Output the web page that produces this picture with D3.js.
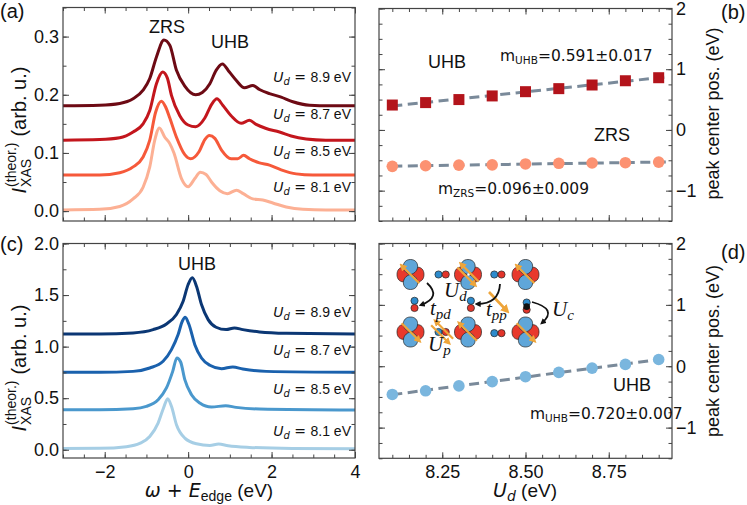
<!DOCTYPE html>
<html>
<head>
<meta charset="utf-8">
<script src="https://cdn.jsdelivr.net/npm/d3@7"></script>
<style>
  body { margin: 0; background: #fff; }
  svg { display: block; }
  text { font-family: "Liberation Sans", Arial, sans-serif; fill: #111; }
</style>
</head>
<body>
<svg id="fig" width="747" height="505"></svg>
<script>
// ---- data ----
// panel (a): XAS spectra, [omega + E_edge, intensity]
var specA81 = [[-3,0.002],[-2.12,0.003],[-1.64,0.008],[-1.32,0.021],[-1.08,0.041],[-0.92,0.076],[-0.80,0.122],[-0.69,0.143],[-0.56,0.127],[-0.44,0.116],[-0.34,0.100],[-0.16,0.056],[0,0.042],[0.16,0.056],[0.29,0.067],[0.43,0.063],[0.56,0.050],[0.76,0.035],[0.94,0.030],[1.16,0.036],[1.32,0.030],[1.55,0.021],[1.79,0.019],[2.03,0.014],[2.35,0.007],[2.75,0.003],[3.3,0.002],[4,0.002]];
var specA85 = [[-3,0.062],[-2.12,0.062],[-1.64,0.066],[-1.32,0.076],[-1.08,0.093],[-0.92,0.122],[-0.78,0.170],[-0.64,0.189],[-0.54,0.179],[-0.44,0.160],[-0.28,0.127],[-0.08,0.097],[0.06,0.090],[0.26,0.102],[0.40,0.123],[0.51,0.130],[0.64,0.125],[0.80,0.105],[1.03,0.090],[1.19,0.090],[1.33,0.096],[1.47,0.090],[1.71,0.083],[1.95,0.079],[2.23,0.071],[2.59,0.064],[2.99,0.062],[4,0.062]];
var specA87 = [[-3,0.122],[-2.12,0.123],[-1.64,0.126],[-1.32,0.136],[-1.08,0.150],[-0.92,0.173],[-0.76,0.219],[-0.61,0.239],[-0.50,0.229],[-0.40,0.199],[-0.20,0.164],[0,0.148],[0.18,0.145],[0.40,0.160],[0.56,0.183],[0.69,0.193],[0.83,0.182],[1.03,0.164],[1.27,0.151],[1.47,0.156],[1.63,0.149],[1.87,0.142],[2.19,0.136],[2.47,0.129],[2.83,0.124],[3.3,0.122],[4,0.122]];
var specA89 = [[-3,0.181],[-2.12,0.182],[-1.64,0.185],[-1.32,0.193],[-1.08,0.208],[-0.92,0.228],[-0.76,0.265],[-0.58,0.294],[-0.44,0.285],[-0.28,0.242],[-0.08,0.215],[0.18,0.200],[0.34,0.204],[0.52,0.219],[0.67,0.242],[0.82,0.253],[0.99,0.239],[1.15,0.225],[1.35,0.212],[1.55,0.216],[1.71,0.209],[1.95,0.202],[2.23,0.196],[2.51,0.188],[2.91,0.182],[3.4,0.181],[4,0.181]];

// panel (c): XAS spectra
var specC81 = [[-3,0.012],[-2.12,0.014],[-1.48,0.030],[-1.16,0.062],[-0.92,0.129],[-0.72,0.259],[-0.59,0.405],[-0.49,0.495],[-0.40,0.421],[-0.28,0.243],[-0.08,0.113],[0.20,0.058],[0.52,0.042],[0.73,0.055],[0.96,0.039],[1.47,0.023],[2.5,0.012],[4,0.010]];
var specC85 = [[-3,0.388],[-2.12,0.388],[-1.32,0.398],[-1.0,0.421],[-0.72,0.485],[-0.52,0.599],[-0.37,0.760],[-0.27,0.890],[-0.18,0.851],[-0.08,0.680],[0.08,0.534],[0.28,0.453],[0.56,0.414],[0.90,0.427],[1.15,0.411],[1.71,0.395],[4,0.385]];
var specC87 = [[-3,0.751],[-2.12,0.751],[-1.32,0.760],[-0.92,0.793],[-0.60,0.858],[-0.40,0.971],[-0.24,1.117],[-0.14,1.246],[-0.07,1.285],[0.02,1.214],[0.16,1.019],[0.32,0.890],[0.52,0.819],[0.80,0.786],[1.07,0.803],[1.31,0.783],[1.87,0.760],[4,0.751]];
var specC89 = [[-3,1.123],[-2.12,1.123],[-1.32,1.133],[-0.84,1.165],[-0.52,1.220],[-0.28,1.311],[-0.12,1.440],[0.0,1.602],[0.10,1.667],[0.20,1.586],[0.32,1.408],[0.48,1.262],[0.67,1.188],[0.91,1.165],[1.11,1.181],[1.31,1.165],[1.71,1.142],[2.35,1.129],[4,1.123]];

var spectraLabels = ["8.1", "8.5", "8.7", "8.9"];
var specLabelY_A = [0.033, 0.095, 0.159, 0.222];   // where each U_d label sits (data units)
var specLabelY_C = [0.13, 0.54, 0.915, 1.285];

// panels (b) and (d): peak positions vs U_d
var udGrid = [8.1, 8.2, 8.3, 8.4, 8.5, 8.6, 8.7, 8.8, 8.9];
var peakUHB_b = [0.41, 0.45, 0.50, 0.56, 0.63, 0.68, 0.74, 0.81, 0.86];
var peakZRS_b = [-0.60, -0.59, -0.58, -0.575, -0.56, -0.55, -0.545, -0.54, -0.53];
var peakUHB_d = [-0.46, -0.40, -0.32, -0.25, -0.17, -0.10, -0.03, 0.03, 0.11];

// tick labels
var omegaTicks = [-2, 0, 2, 4];
var intTicksA = [0.0, 0.1, 0.2, 0.3];
var intTicksC = [0.0, 0.5, 1.0, 1.5, 2.0];
var udTicks = [8.25, 8.50, 8.75];
var peakTicks = [-1, 0, 1, 2];

var redColors = ["#fcb094", "#f6593a", "#c3161d", "#6d0a14"];
var blueColors = ["#a6cee5", "#4a98cd", "#1a61ad", "#0b3774"];

// ---- figure ----
var svg = d3.select("#fig");
var frameColor = "#444";

function range(a, b, s) {
  var out = [];
  for (var v = a; v <= b + 1e-9; v += s) out.push(+v.toFixed(4));
  return out;
}

// frame + inward ticks on all four sides
function drawAxes(x, y, o) {
  var x0 = x.range()[0], x1 = x.range()[1], y0 = y.range()[0], y1 = y.range()[1];
  var g = svg.append("g");
  var sides = [
    [d3.axisBottom(x), "translate(0," + y0 + ")", o.xMajor, o.xMinor, o.xLabels],
    [d3.axisTop(x), "translate(0," + y1 + ")", o.xMajor, o.xMinor, false],
    [d3.axisLeft(y), "translate(" + x0 + ",0)", o.yMajor, o.yMinor, o.yLeft],
    [d3.axisRight(y), "translate(" + x1 + ",0)", o.yMajor, o.yMinor, !o.yLeft]
  ];
  sides.forEach(function(s, i) {
    var isY = i > 1;
    var fmt = isY ? o.yFmt : o.xFmt;
    var ax = s[0].tickValues(s[2]).tickSize(-6).tickPadding(isY ? 4 : 7)
      .tickFormat(s[4] ? fmt : "");
    var gm = g.append("g").attr("transform", s[1]).call(ax);
    var mi = s[0].tickValues(s[3]).tickSize(-3.5).tickFormat("");
    var gn = g.append("g").attr("transform", s[1]).call(mi);
    [gm, gn].forEach(function(a) {
      a.select(".domain").remove();
      a.selectAll("line").attr("stroke", frameColor).attr("stroke-width", 1);
    });
    gm.selectAll("text").attr("font-size", 18)
      .attr("font-family", "Liberation Sans, Arial, sans-serif").attr("fill", "#111");
  });
  g.append("rect").attr("x", x0).attr("y", y1).attr("width", x1 - x0).attr("height", y0 - y1)
    .attr("fill", "none").attr("stroke", frameColor).attr("stroke-width", 1.2);
}

// text with a subscript, e.g. U_d
function subText(parent, x, y, parts, anchor) {
  var t = parent.append("text").attr("x", x).attr("y", y);
  if (anchor) t.attr("text-anchor", anchor);
  parts.forEach(function(p) {
    var s = t.append("tspan").text(p.t);
    if (p.italic) s.attr("font-style", "italic");
    if (p.family) s.attr("font-family", p.family);
    if (p.size) s.attr("font-size", p.size);
    if (p.dy) s.attr("dy", p.dy);
  });
  return t;
}

// ---------- panel (a) ----------
var xA = d3.scaleLinear().domain([-3, 4]).range([63, 355]);
var yA = d3.scaleLinear().domain([-0.017, 0.35]).range([221, 7.5]);
var lineA = d3.line().x(function(d) { return xA(d[0]); }).y(function(d) { return yA(d[1]); })
  .curve(d3.curveMonotoneX);
svg.append("g").selectAll("path").data([specA81, specA85, specA87, specA89]).enter()
  .append("path").attr("d", lineA).attr("fill", "none")
  .attr("stroke", function(d, i) { return redColors[i]; })
  .attr("stroke-width", 3).attr("stroke-linejoin", "round");
drawAxes(xA, yA, {
  xMajor: omegaTicks, xMinor: range(-3, 4, 0.5), xLabels: false, xFmt: d3.format("d"),
  yMajor: intTicksA, yMinor: range(0, 0.35, 0.05), yLeft: true, yFmt: d3.format(".1f")
});

// ---------- panel (c) ----------
var xC = d3.scaleLinear().domain([-3, 4]).range([63, 355]);
var yC = d3.scaleLinear().domain([-0.08, 2.0]).range([458, 243.5]);
var lineC = d3.line().x(function(d) { return xC(d[0]); }).y(function(d) { return yC(d[1]); })
  .curve(d3.curveMonotoneX);
svg.append("g").selectAll("path").data([specC81, specC85, specC87, specC89]).enter()
  .append("path").attr("d", lineC).attr("fill", "none")
  .attr("stroke", function(d, i) { return blueColors[i]; })
  .attr("stroke-width", 3).attr("stroke-linejoin", "round");
drawAxes(xC, yC, {
  xMajor: omegaTicks, xMinor: range(-3, 4, 0.5), xLabels: true, xFmt: d3.format("d"),
  yMajor: intTicksC, yMinor: range(0, 2, 0.25), yLeft: true, yFmt: d3.format(".1f")
});

// U_d labels on the spectra
function specLabels(y, vals) {
  var g = svg.append("g");
  spectraLabels.forEach(function(lab, i) {
    subText(g, 351, y(vals[i]), [
      { t: "U", italic: true, family: "DejaVu Sans", size: 14 },
      { t: "d", italic: true, family: "DejaVu Sans", size: 10, dy: 3 },
      { t: " = ", family: "DejaVu Sans", size: 14, dy: -3 },
      { t: lab + " eV", size: 14 }
    ], "end");
  });
}
specLabels(yA, specLabelY_A);
specLabels(yC, specLabelY_C);

svg.append("text").attr("x", 167).attr("y", 33).attr("text-anchor", "middle").attr("font-size", 18).text("ZRS");
svg.append("text").attr("x", 230).attr("y", 48).attr("text-anchor", "middle").attr("font-size", 18).text("UHB");
svg.append("text").attr("x", 197).attr("y", 270).attr("text-anchor", "middle").attr("font-size", 18).text("UHB");

// y labels for (a) and (c): I^(theor.)_XAS (arb. u.)
function intensityLabel(cx, cy) {
  var outer = svg.append("g").attr("transform", "translate(" + cx + "," + cy + ") rotate(-90)");
  var g = outer.append("g");
  var tI = g.append("text").attr("font-family", "DejaVu Sans").attr("font-style", "italic")
    .attr("font-size", 20).text("I");
  var w = tI.node().getComputedTextLength();
  var tSub = g.append("text").attr("x", w + 1).attr("y", 5).attr("font-size", 14).text("XAS");
  var tSup = g.append("text").attr("x", w + 1).attr("y", -10).attr("font-size", 14).text("(theor.)");
  var w2 = w + 1 + Math.max(tSub.node().getComputedTextLength(), tSup.node().getComputedTextLength());
  var tR = g.append("text").attr("x", w2 + 6).attr("font-size", 20).text("(arb. u.)");
  var total = w2 + 6 + tR.node().getComputedTextLength();
  g.attr("transform", "translate(" + (-total / 2) + ",0)");
}
intensityLabel(26, 130);
intensityLabel(26, 368);

// x label (c)
subText(svg, 209, 497, [
  { t: "\u03c9", italic: true, family: "DejaVu Sans", size: 19 },
  { t: " + ", family: "DejaVu Sans", size: 19 },
  { t: "E", italic: true, family: "DejaVu Sans", size: 19 },
  { t: "edge", size: 14, dy: 4 },
  { t: " (eV)", size: 19, dy: -4 }
], "middle");

// ---------- panels (b) and (d) ----------
var xB = d3.scaleLinear().domain([8.06, 8.94]).range([379, 672]);
var yB = d3.scaleLinear().domain([-1.5, 2]).range([221, 8.5]);
var xD = d3.scaleLinear().domain([8.06, 8.94]).range([379, 672]);
var yD = d3.scaleLinear().domain([-1.5, 2]).range([458.3, 243.5]);

function linFit(xs, ys) {
  var mx = d3.mean(xs), my = d3.mean(ys);
  var sxy = d3.sum(xs, function(v, i) { return (v - mx) * (ys[i] - my); });
  var sxx = d3.sum(xs, function(v) { return (v - mx) * (v - mx); });
  var m = sxy / sxx;
  return function(v) { return my + m * (v - mx); };
}

function fitLine(x, y, vals) {
  var f = linFit(udGrid, vals);
  var ends = [udGrid[0], 8.93];
  svg.append("path")
    .attr("d", d3.line().x(function(d) { return x(d); }).y(function(d) { return y(f(d)); })(ends))
    .attr("fill", "none").attr("stroke", "#7a8a9a").attr("stroke-width", 3)
    .attr("stroke-dasharray", "10,5.5");
}

fitLine(xB, yB, peakUHB_b);
fitLine(xB, yB, peakZRS_b);
svg.append("g").selectAll("rect").data(peakUHB_b).enter().append("rect")
  .attr("x", function(d, i) { return xB(udGrid[i]) - 5.5; })
  .attr("y", function(d) { return yB(d) - 5.5; })
  .attr("width", 11).attr("height", 11).attr("fill", "#b3141b");
svg.append("g").selectAll("circle").data(peakZRS_b).enter().append("circle")
  .attr("cx", function(d, i) { return xB(udGrid[i]); })
  .attr("cy", function(d) { return yB(d); })
  .attr("r", 5.8).attr("fill", "#fc9272");
drawAxes(xB, yB, {
  xMajor: udTicks, xMinor: range(8.1, 8.9, 0.05), xLabels: false, xFmt: d3.format(".2f"),
  yMajor: peakTicks, yMinor: range(-1.5, 2, 0.25), yLeft: false, yFmt: d3.format("d")
});

fitLine(xD, yD, peakUHB_d);
svg.append("g").selectAll("circle").data(peakUHB_d).enter().append("circle")
  .attr("cx", function(d, i) { return xD(udGrid[i]); })
  .attr("cy", function(d) { return yD(d); })
  .attr("r", 5.8).attr("fill", "#7ab6de");
drawAxes(xD, yD, {
  xMajor: udTicks, xMinor: range(8.1, 8.9, 0.05), xLabels: true, xFmt: d3.format(".2f"),
  yMajor: peakTicks, yMinor: range(-1.5, 2, 0.25), yLeft: false, yFmt: d3.format("d")
});

// right-hand y labels
[113.5, 351].forEach(function(cy) {
  svg.append("text").attr("transform", "translate(719," + cy + ") rotate(-90)")
    .attr("text-anchor", "middle").attr("font-size", 18).text("peak center pos. (eV)");
});
subText(svg, 525, 497, [
  { t: "U", italic: true, family: "DejaVu Sans", size: 19 },
  { t: "d", italic: true, family: "DejaVu Sans", size: 14, dy: 4 },
  { t: " (eV)", size: 19, dy: -4 }
], "middle");

// annotations (b), (d)
svg.append("text").attr("x", 447).attr("y", 68).attr("text-anchor", "middle").attr("font-size", 18).text("UHB");
svg.append("text").attr("x", 612).attr("y", 141).attr("text-anchor", "middle").attr("font-size", 18).text("ZRS");
svg.append("text").attr("x", 632).attr("y", 391).attr("text-anchor", "middle").attr("font-size", 18).text("UHB");
function slopeText(x, y, sub, val) {
  subText(svg, x, y, [
    { t: "m", family: "DejaVu Sans", size: 15.5 },
    { t: sub, family: "DejaVu Sans", size: 10.5, dy: 3 },
    { t: "=" + val, family: "DejaVu Sans", size: 15.5, dy: -3 }
  ]);
}
slopeText(500, 61, "UHB", "0.591\u00b10.017");
slopeText(438, 194, "ZRS", "0.096\u00b10.009");
slopeText(530, 419, "UHB", "0.720\u00b10.007");

// panel letters
[["(a)", 0, 18], ["(c)", 0, 251], ["(b)", 721, 19], ["(d)", 721, 259]].forEach(function(p) {
  svg.append("text").attr("x", p[1]).attr("y", p[2]).attr("font-size", 20).text(p[0]);
});

// ---------- inset schematic in (d) ----------
var defs = svg.append("defs");
[["headO", "#eea53a"], ["headK", "#111"]].forEach(function(m) {
  defs.append("marker").attr("id", m[0]).attr("viewBox", "0 0 10 10").attr("refX", 6).attr("refY", 5)
    .attr("markerWidth", 3.4).attr("markerHeight", 3.4).attr("orient", "auto")
    .append("path").attr("d", "M0,0 L10,5 L0,10 Z").attr("fill", m[1]);
});

var inset = svg.append("g");
var ox = 410.5, oy = 274.5, sp = 57.5;
function px(c) { return ox + c * sp; }
function py(r) { return oy + r * sp; }

var dSites = [[0, 0], [1, 0], [2, 0], [0, 1], [1, 1], [2, 1]];
var redLobe = "M0,0 C2,-10 13.5,-9.5 13.5,0 C13.5,9.5 2,10 0,0 Z";
var blueLobe = "M0,0 C2,-9.5 15,-9.5 15,0 C15,9.5 2,9.5 0,0 Z";
dSites.forEach(function(s) {
  var gd = inset.append("g").attr("transform", "translate(" + px(s[0]) + "," + py(s[1]) + ")");
  [0, 180].forEach(function(a) {
    gd.append("path").attr("d", redLobe).attr("transform", "rotate(" + a + ")")
      .attr("fill", "#e8392c").attr("stroke", "#222").attr("stroke-width", 0.7);
  });
  [90, 270].forEach(function(a) {
    gd.append("path").attr("d", blueLobe).attr("transform", "rotate(" + a + ")")
      .attr("fill", "#5fa6d9").attr("stroke", "#222").attr("stroke-width", 0.7);
  });
});

var pHoriz = [[0.55, 0], [1.52, 0], [0.55, 1], [1.52, 1.02]];
var pVert = [[0.07, 0.52], [1.05, 0.52], [2.02, 0.55]];
pHoriz.forEach(function(s) {
  [[-3.6, "#2d8bcc"], [3.6, "#e2342a"]].forEach(function(c) {
    inset.append("circle").attr("cx", px(s[0]) + c[0]).attr("cy", py(s[1])).attr("r", 3.6)
      .attr("fill", c[1]).attr("stroke", "#222").attr("stroke-width", 0.7);
  });
});
pVert.forEach(function(s, i) {
  [[-3.6, "#2d8bcc"], [3.6, "#e2342a"]].forEach(function(c) {
    inset.append("circle").attr("cx", px(s[0])).attr("cy", py(s[1]) + c[0]).attr("r", 3.6)
      .attr("fill", c[1]).attr("stroke", "#222").attr("stroke-width", 0.7);
  });
  if (i === 2) inset.append("circle").attr("cx", px(s[0])).attr("cy", py(s[1]) + 0.5).attr("r", 3.3).attr("fill", "#111");
});
inset.append("circle").attr("cx", px(1) + 0.5).attr("cy", py(0)).attr("r", 1.3).attr("fill", "#fff");

// spin arrows along the diagonal: [col, row, direction, perpendicular offset]
var spins = [[0, 0, -1, 0], [1, 0, -1, -2.5], [1, 0, 1, 2.5], [2, 0, -1, 0],
             [0, 1, 1, 0], [1, 1, -1, 0], [2, 1, 1, 0], [0.55, 1, -1, -3], [0.55, 1, 1, 3]];
spins.forEach(function(s) {
  var cx = px(s[0]), cy = py(s[1]), L = 12.5, k = Math.SQRT1_2;
  var ppx = -k * s[3], ppy = k * s[3];
  inset.append("line")
    .attr("x1", cx - s[2] * L * k + ppx).attr("y1", cy - s[2] * L * k + ppy)
    .attr("x2", cx + s[2] * L * k + ppx).attr("y2", cy + s[2] * L * k + ppy)
    .attr("stroke", "#eea53a").attr("stroke-width", 2.2).attr("marker-end", "url(#headO)");
});
// t_pp hop
inset.append("line").attr("x1", 489).attr("y1", 292).attr("x2", 507).attr("y2", 311)
  .attr("stroke", "#eea53a").attr("stroke-width", 2.6).attr("marker-end", "url(#headO)");

// black curved hops
[["M427,283 Q442,297 421,305"], ["M500,284 Q499,304 477,304"], ["M532,302 Q558,309 542,323"]]
  .forEach(function(p) {
    inset.append("path").attr("d", p[0]).attr("fill", "none").attr("stroke", "#111")
      .attr("stroke-width", 1.8).attr("marker-end", "url(#headK)");
  });

function mathLabel(x, y, main, sub) {
  subText(inset, x, y, [
    { t: main, italic: true, family: "Liberation Serif", size: 21 },
    { t: sub, italic: true, family: "Liberation Serif", size: 15, dy: 4 }
  ]);
}
mathLabel(444, 297, "U", "d");
mathLabel(430, 315, "t", "pd");
mathLabel(486, 316, "t", "pp");
mathLabel(552, 316, "U", "c");
mathLabel(428, 351, "U", "p");
</script>
</body>
</html>
